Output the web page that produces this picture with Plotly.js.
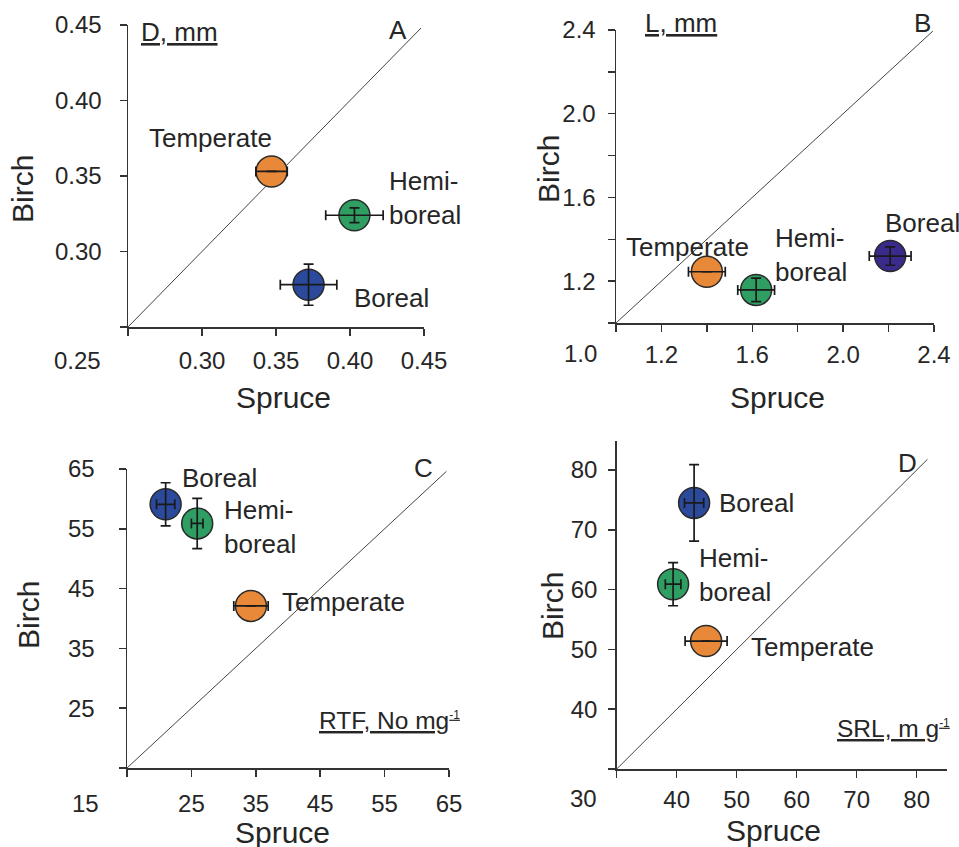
<!DOCTYPE html>
<html>
<head>
<meta charset="utf-8">
<script src="https://cdn.plot.ly/plotly-3.0.1.min.js"></script>
<style>html,body{margin:0;padding:0;background:#fff;}#chart{width:959px;height:847px;}</style>
</head>
<body>
<div id="chart"></div>
<script>
// ---------------- data ----------------
const regions = ["Temperate", "Hemi-boreal", "Boreal"];

// Panel A: root diameter D, mm
const spruceD = [0.347, 0.403, 0.372];
const spruceDErr = [0.0106, 0.0194, 0.0191];
const birchD = [0.353, 0.324, 0.278];
const birchDErr = [0, 0.0049, 0.0136];

// Panel B: root length L, mm
const spruceL = [1.40, 1.617, 2.207];
const spruceLErr = [0.081, 0.081, 0.092];
const birchL = [1.245, 1.158, 1.32];
const birchLErr = [0, 0.056, 0.044];

// Panel C: RTF, No mg-1
const spruceRTF = [34.25, 25.9, 21.0];
const spruceRTFErr = [2.67, 0.9, 1.42];
const birchRTF = [42.1, 55.9, 59.1];
const birchRTFErr = [0, 4.2, 3.6];

// Panel D: SRL, m g-1
const spruceSRL = [44.9, 39.4, 42.9];
const spruceSRLErr = [3.5, 1.3, 1.6];
const birchSRL = [51.4, 60.9, 74.5];
const birchSRLErr = [0, 3.6, 6.4];

// 1:1 lines
const diagA = [0.25, 0.448];
const diagB = [1.0, 2.395];
const diagC = [15, 64.6];
const diagD = [30, 81.8];

// ticks
const tickValsA = [0.25, 0.30, 0.35, 0.40, 0.45];
const tickTextA = [" ", "0.30", "0.35", "0.40", "0.45"];
const tickValsB = [1.0, 1.2, 1.4, 1.6, 1.8, 2.0, 2.2, 2.4];
const tickTextB = [" ", "1.2", " ", "1.6", " ", "2.0", " ", "2.4"];
const tickValsC = [15, 25, 35, 45, 55, 65];
const tickTextC = [" ", "25", "35", "45", "55", "65"];
const tickValsD = [30, 40, 50, 60, 70, 80];
const tickTextD = [" ", "40", "50", "60", "70", "80"];
const originLabels = ["0.25", "1.0", "15", "30"];

const panelTitles = ["<u>D, mm</u>", "<u>L, mm</u>",
  "<u>RTF, No mg<sup><span style=\"font-size:12px\">-1</span></sup></u>",
  "<u>SRL, m g<sup><span style=\"font-size:12px\">-1</span></sup></u>"];
const panelLetters = ["A", "B", "C", "D"];

const colorsStd = ["#e8893a", "#2e9e62", "#2b4a9c"];
const colorsB = ["#e8893a", "#2e9e62", "#3a2a8c"];

// ---------------- helpers ----------------
const W = 959, H = 847;
const FONT = "Liberation Sans, Arial, Helvetica, sans-serif";
const TXT = "#262626";
const AX = "#333333";
function px(x) { return x / W; }
function py(y) { return 1 - y / H; }

const traces = [];
function addPanel(xa, ya, sx, sxe, by, bye, diag, colors) {
  traces.push({
    type: "scatter", mode: "lines", x: diag, y: diag, xaxis: xa, yaxis: ya,
    line: { color: "#444", width: 1 }, hoverinfo: "skip", showlegend: false
  });
  traces.push({
    type: "scatter", mode: "markers", x: sx, y: by, text: regions, xaxis: xa, yaxis: ya,
    marker: { size: 31, color: colors, line: { color: "#2a2a2a", width: 1.5 } },
    showlegend: false, cliponaxis: false
  });
  traces.push({
    type: "scatter", mode: "markers", x: sx, y: by, xaxis: xa, yaxis: ya,
    marker: { size: 2, opacity: 0 },
    error_x: { type: "data", array: sxe, visible: true, color: "#1a1a1a", thickness: 1.7, width: 5 },
    error_y: { type: "data", array: bye, visible: true, color: "#1a1a1a", thickness: 1.7, width: 5 },
    showlegend: false, hoverinfo: "skip", cliponaxis: false
  });
}
addPanel("x", "y", spruceD, spruceDErr, birchD, birchDErr, diagA, colorsStd);
addPanel("x2", "y2", spruceL, spruceLErr, birchL, birchLErr, diagB, colorsB);
addPanel("x3", "y3", spruceRTF, spruceRTFErr, birchRTF, birchRTFErr, diagC, colorsStd);
addPanel("x4", "y4", spruceSRL, spruceSRLErr, birchSRL, birchSRLErr, diagD, colorsStd);

function axis(domain, range, tv, tt, anchor, standoff) {
  return {
    domain: domain, range: range, anchor: anchor, tickmode: "array", tickvals: tv, ticktext: tt,
    showgrid: false, zeroline: false, showline: true, linecolor: AX, linewidth: 1.5,
    ticks: "outside", ticklen: 7, tickwidth: 1.5, tickcolor: AX,
    tickfont: { family: FONT, size: 24, color: TXT }, ticklabelstandoff: standoff,
    fixedrange: true, automargin: false
  };
}

const layout = {
  width: W, height: H, margin: { l: 0, r: 0, t: 0, b: 0 },
  paper_bgcolor: "#fff", plot_bgcolor: "rgba(0,0,0,0)", showlegend: false,
  font: { family: FONT, color: TXT },
  xaxis: axis([px(128), px(424)], [0.25, 0.45], tickValsA, tickTextA, "y", 5),
  yaxis: axis([py(327), py(25)], [0.25, 0.45], tickValsA, tickTextA, "x", 13),
  xaxis2: axis([px(616), px(934)], [1.0, 2.4], tickValsB, tickTextB, "y2", 3),
  yaxis2: axis([py(323), py(30)], [1.0, 2.4], tickValsB, tickTextB, "x2", 7),
  xaxis3: axis([px(127), px(449)], [15, 65], tickValsC, tickTextC, "y3", 7),
  yaxis3: axis([py(768), py(469)], [15, 65], tickValsC, tickTextC, "x3", 19),
  xaxis4: axis([px(616.7), px(946.7)], [30, 85], tickValsD, tickTextD, "y4", 2),
  yaxis4: axis([py(769), py(441)], [30, 84.85], tickValsD, tickTextD, "x4", 6),
  annotations: []
};

function ann(text, x, y, opts) {
  layout.annotations.push(Object.assign({
    text: text, xref: "paper", yref: "paper", x: px(x), y: py(y),
    xanchor: "left", yanchor: "middle", showarrow: false, align: "left",
    font: { family: FONT, size: 26, color: TXT }
  }, opts || {}));
}
const ttl = { family: FONT, size: 30, color: TXT };
const tk = { family: FONT, size: 24, color: TXT };
const unitFont = { family: FONT, size: 24.5, color: TXT };

// Panel A
ann(regions[0], 210, 138, { xanchor: "center" });
ann("Hemi-<br>boreal", 387, 198);
ann(regions[2], 352, 298);
ann(panelTitles[0], 139, 32);
ann(panelLetters[0], 398, 30, { xanchor: "center" });
ann(originLabels[0], 77, 360, { xanchor: "center", font: tk });
ann("Spruce", 283, 397, { xanchor: "center", font: ttl });
ann("Birch", 22, 189, { xanchor: "center", textangle: -90, font: ttl });

// Panel B
ann(regions[0], 687, 247, { xanchor: "center" });
ann("Hemi-<br>boreal", 773, 255);
ann(regions[2], 883, 223);
ann(panelTitles[1], 643, 23);
ann(panelLetters[1], 922, 23, { xanchor: "center" });
ann(originLabels[1], 580, 353, { xanchor: "center", font: tk });
ann("Spruce", 777, 397, { xanchor: "center", font: ttl });
ann("Birch", 548, 169, { xanchor: "center", textangle: -90, font: ttl });

// Panel C
ann(regions[2], 180, 478);
ann("Hemi-<br>boreal", 222, 527);
ann(regions[0], 280, 602);
ann(panelTitles[2], 317, 720, { font: unitFont });
ann(panelLetters[2], 423, 468, { xanchor: "center" });
ann(originLabels[2], 85, 803, { xanchor: "center", font: tk });
ann("Spruce", 282, 832, { xanchor: "center", font: ttl });
ann("Birch", 28, 615, { xanchor: "center", textangle: -90, font: ttl });

// Panel D
ann(regions[2], 717, 503);
ann("Hemi-<br>boreal", 697, 575);
ann(regions[0], 749, 647);
ann(panelTitles[3], 835, 728, { font: unitFont });
ann(panelLetters[3], 907, 463, { xanchor: "center" });
ann(originLabels[3], 583, 798, { xanchor: "center", font: tk });
ann("Spruce", 773, 830, { xanchor: "center", font: ttl });
ann("Birch", 552, 606, { xanchor: "center", textangle: -90, font: ttl });

Plotly.newPlot("chart", traces, layout, { displayModeBar: false, staticPlot: true });
</script>
</body>
</html>
